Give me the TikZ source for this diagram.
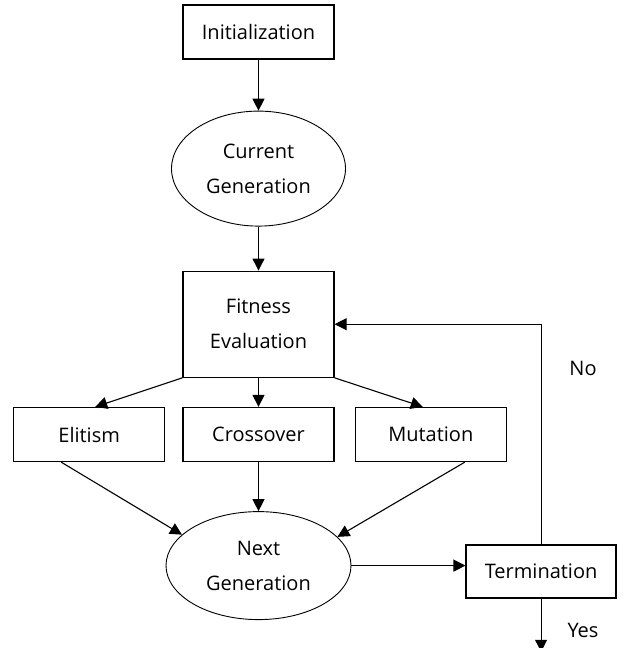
\documentclass[tikz,border=0pt]{standalone}
\usepackage{fontspec}
\setmainfont{Open Sans}
\usetikzlibrary{shapes.geometric, arrows.meta, positioning, calc}

\begin{document}
\begin{tikzpicture}[
    x=1pt, y=1pt,
    box/.style={rectangle, draw, line width=1.3pt, minimum width=151pt, minimum height=54pt, align=center, inner sep=0pt},
    oval/.style={ellipse, draw, line width=0.9pt, align=center, inner sep=0pt},
    arrow/.style={-{Triangle[length=12pt, width=12pt]}, line width=1.1pt},
    every node/.style={font=\fontsize{20}{35}\selectfont}
]
\useasboundingbox (0,0) rectangle (633,-648);

\node[box] (init) at (258.5,-32) {Initialization};
\node[oval, minimum width=174pt, minimum height=115pt, below=51pt of init] (cur) {Current\\Generation};
\node[box, minimum height=106pt, below=44pt of cur] (fit) {Fitness\\Evaluation};
\node[box, below=29pt of fit] (cross) {Crossover};
\node[box, left=17pt of cross] (elit) {Elitism};
\node[box, right=20pt of cross] (mut) {Mutation};
\node[oval, minimum width=185pt, minimum height=108pt, below=49pt of cross] (next) {Next\\Generation};
\node[box, minimum width=150pt, minimum height=53pt, right=114pt of next, yshift=-6pt] (term) {Termination};
\coordinate[below=53pt of term] (out);
\node (no) at (583,-368) {No};
\node (yes) at (583,-630) {Yes};

\draw[arrow] (init) -- (cur);
\draw[arrow] (cur) -- (fit);
\draw[arrow] (fit.south west) -- ([xshift=6pt]elit.north);
\draw[arrow] (fit.south) -- (cross.north);
\draw[arrow] (fit.south east) -- ([xshift=-8pt]mut.north);
\draw[arrow] ([xshift=-28pt]elit.south) -- (next.158);
\draw[arrow] (cross) -- (next);
\draw[arrow] ([xshift=34pt]mut.south) -- (next.20);
\draw[arrow] (next.east) -- (next.east -| term.west);
\draw[arrow] (term.north) |- (fit.east);
\draw[arrow] (term.south) -- (out);

\end{tikzpicture}
\end{document}
